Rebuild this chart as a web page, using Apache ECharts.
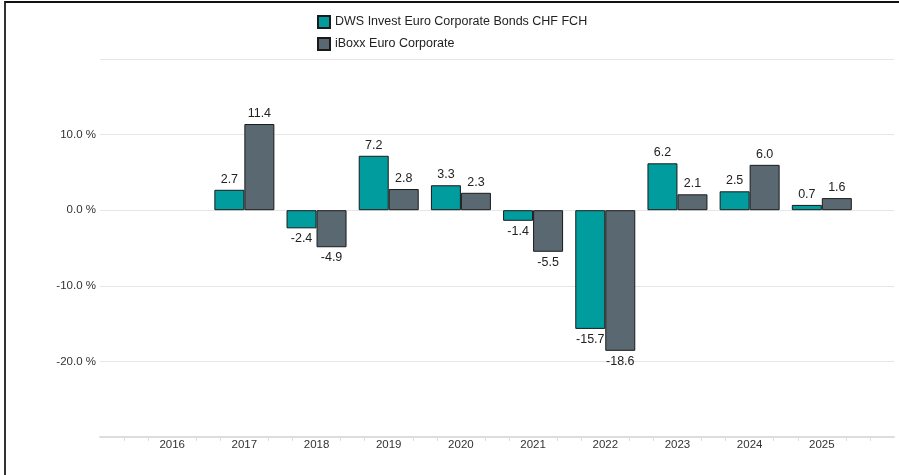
<!DOCTYPE html>
<html>
<head>
<meta charset="utf-8">
<script src="https://cdn.jsdelivr.net/npm/echarts@6/dist/echarts.min.js"></script>
<style>
  html, body { margin: 0; padding: 0; background: #fff; }
  #chart { position: absolute; left: 0; top: 0; width: 899px; height: 475px; }
  #frame { position: absolute; left: 4px; top: 1px; width: 895px; height: 474px;
           border-left: 2px solid #333; border-top: 2px solid #111; pointer-events: none; }
</style>
</head>
<body>
<div id="chart"></div>
<div id="frame"></div>
<script>
// years and yearly performance (%)
const years = [2016, 2017, 2018, 2019, 2020, 2021, 2022, 2023, 2024, 2025];
const fundName = "DWS Invest Euro Corporate Bonds CHF FCH";
const benchName = "iBoxx Euro Corporate";
const fundValues  = [null, 2.7, -2.4, 7.2, 3.3, -1.4, -15.7, 6.2, 2.5, 0.7];
const benchValues = [null, 11.4, -4.9, 2.8, 2.3, -5.5, -18.6, 2.1, 6.0, 1.6];

const chart = echarts.init(document.getElementById("chart"));

const toPairs = vals => years.map((y, i) => [y, vals[i]]).filter(p => p[1] !== null);

const barLabel = {
  show: true,
  position: "outside",
  distance: 4,
  color: "#222",
  fontSize: 12.5,
  fontFamily: "Liberation Sans",
  formatter: p => p.value[1].toFixed(1),
};

chart.setOption({
  animation: false,
  textStyle: { fontFamily: "Liberation Sans" },
  legend: {
    orient: "vertical",
    left: 312,
    top: 10,
    itemWidth: 12,
    itemHeight: 12,
    itemGap: 8,
    icon: "rect",
    textStyle: { fontSize: 12.5, color: "#222" },
    data: [fundName, benchName],
  },
  grid: { left: 100, right: 5, top: 59, bottom: 38 },
  xAxis: {
    type: "value",
    min: 2015,
    max: 2026,
    interval: 1,
    axisLine: { show: true, onZero: false, lineStyle: { color: "#ddd", width: 2 } },
    axisTick: { show: false },
    minorTick: { show: true, splitNumber: 3, length: 4, lineStyle: { color: "#ddd", width: 1 } },
    splitLine: { show: false },
    axisLabel: {
      color: "#333",
      fontSize: 11.5,
      margin: 2,
      formatter: v => (v > 2015 && v < 2026 ? String(v) : ""),
    },
  },
  yAxis: {
    type: "value",
    min: -30,
    max: 20,
    interval: 10,
    axisLine: { show: false },
    axisTick: { show: false },
    splitLine: { lineStyle: { color: "#e6e6e6", width: 1 } },
    axisLabel: {
      color: "#333",
      fontSize: 11.5,
      margin: 4,
      formatter: v => (v === 20 || v === -30 ? "" : v.toFixed(1) + " %"),
    },
  },
  series: [
    {
      name: fundName,
      type: "bar",
      barWidth: 30,
      barGap: "0%",
      itemStyle: { color: "#009C9E", borderColor: "#1a1a1a", borderWidth: 1 },
      label: barLabel,
      data: toPairs(fundValues),
    },
    {
      name: benchName,
      type: "bar",
      barWidth: 30,
      barGap: "0%",
      itemStyle: { color: "#5A6872", borderColor: "#1a1a1a", borderWidth: 1 },
      label: barLabel,
      data: toPairs(benchValues),
    },
  ],
});
</script>
</body>
</html>
